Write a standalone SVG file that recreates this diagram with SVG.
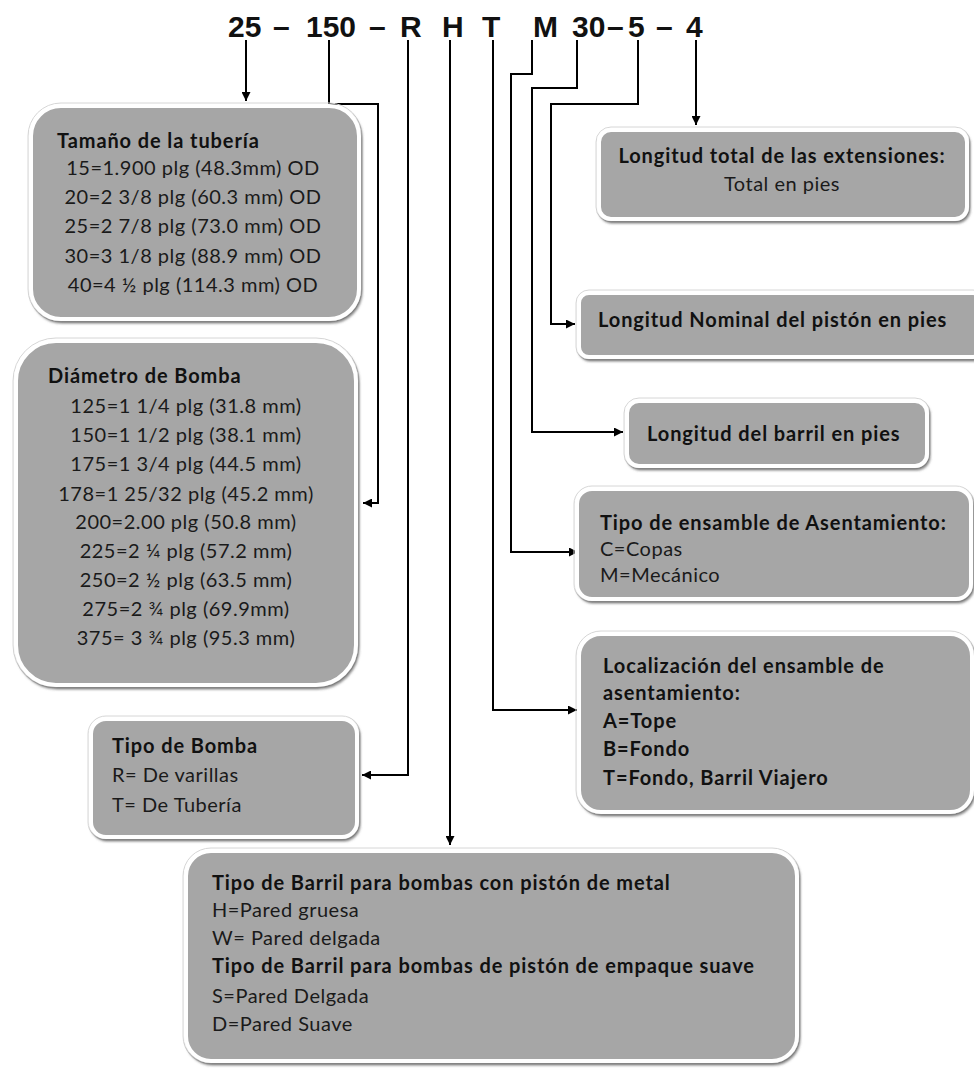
<svg xmlns="http://www.w3.org/2000/svg" width="974" height="1068" viewBox="0 0 974 1068">
<defs>
<filter id="sh" x="-5%" y="-5%" width="110%" height="115%">
<feDropShadow dx="1.5" dy="2.5" stdDeviation="1.2" flood-color="#555" flood-opacity="0.7"/>
</filter>
<marker id="ah" viewBox="0 0 10 10" refX="10" refY="5" markerWidth="10" markerHeight="9" orient="auto" markerUnits="userSpaceOnUse">
<path d="M0,0 L10,5 L0,10 z" fill="#000"/>
</marker>
<style>
.box{fill:#a6a6a6;stroke:#ffffff;stroke-width:4;filter:url(#sh)}
.halo{fill:none;stroke:#d6d6d6;stroke-width:1}
.t{font-family:Lato,"Liberation Sans",sans-serif;font-size:20px;letter-spacing:0.5px;fill:#1a1a1a}
.b{font-weight:bold;letter-spacing:0.9px;fill:#111}
.c{text-anchor:middle}
.hd{font-family:"Liberation Sans",Arial,sans-serif;font-size:30px;font-weight:bold;fill:#111}
.cn{fill:none;stroke:#000;stroke-width:2}
</style>
</defs>
<rect width="974" height="1068" fill="#ffffff"/>

<g id="header">
<text class="hd" y="37"><tspan x="228">25</tspan><tspan x="273">–</tspan><tspan x="306">150</tspan><tspan x="369">–</tspan><tspan x="400">R</tspan><tspan x="442">H</tspan><tspan x="482">T</tspan><tspan x="533">M</tspan><tspan x="572">30</tspan><tspan x="607">–</tspan><tspan x="628">5</tspan><tspan x="656">–</tspan><tspan x="686">4</tspan></text>
</g>

<g id="connectors">
<path class="cn" d="M246,40 V101" marker-end="url(#ah)"/>
<path class="cn" d="M329,40 V104 H378 V503 H363" marker-end="url(#ah)"/>
<path class="cn" d="M408,40 V775 H362" marker-end="url(#ah)"/>
<path class="cn" d="M450,40 V845" marker-end="url(#ah)"/>
<path class="cn" d="M493,40 V710 H577" marker-end="url(#ah)"/>
<path class="cn" d="M532,40 V74 H511 V552 H578" marker-end="url(#ah)"/>
<path class="cn" d="M577,40 V88 H532 V432 H623" marker-end="url(#ah)"/>
<path class="cn" d="M638,40 V104 H551 V324 H575" marker-end="url(#ah)"/>
<path class="cn" d="M696,40 V125" marker-end="url(#ah)"/>
</g>

<g id="tamano">
<rect class="halo" x="28" y="103" width="334" height="219" rx="33"/>
<rect class="box" x="31" y="106" width="328" height="213" rx="30"/>
<text class="t b" x="57" y="148">Tamaño de la tubería</text>
<text class="t c" x="193" y="175">15=1.900 plg (48.3mm) OD</text>
<text class="t c" x="193" y="204">20=2 3/8 plg (60.3 mm) OD</text>
<text class="t c" x="193" y="233">25=2 7/8 plg (73.0 mm) OD</text>
<text class="t c" x="193" y="263">30=3 1/8 plg (88.9 mm) OD</text>
<text class="t c" x="193" y="292">40=4 ½ plg (114.3 mm) OD</text>
</g>

<g id="diametro">
<rect class="halo" x="13" y="338" width="346" height="350" rx="43"/>
<rect class="box" x="16" y="341" width="340" height="344" rx="40"/>
<text class="t b" x="48" y="383">Diámetro de Bomba</text>
<text class="t c" x="186" y="413">125=1 1/4 plg (31.8 mm)</text>
<text class="t c" x="186" y="442">150=1 1/2 plg (38.1 mm)</text>
<text class="t c" x="186" y="471">175=1 3/4 plg (44.5 mm)</text>
<text class="t c" x="186" y="501">178=1 25/32 plg (45.2 mm)</text>
<text class="t c" x="186" y="529">200=2.00 plg (50.8 mm)</text>
<text class="t c" x="186" y="558">225=2 ¼ plg (57.2 mm)</text>
<text class="t c" x="186" y="587">250=2 ½ plg (63.5 mm)</text>
<text class="t c" x="186" y="616">275=2 ¾ plg (69.9mm)</text>
<text class="t c" x="186" y="645">375= 3 ¾ plg (95.3 mm)</text>
</g>

<g id="tipo-bomba">
<rect class="halo" x="88" y="716" width="272" height="124" rx="18"/>
<rect class="box" x="91" y="719" width="266" height="118" rx="15"/>
<text class="t b" x="112" y="753">Tipo de Bomba</text>
<text class="t" x="112" y="782">R= De varillas</text>
<text class="t" x="112" y="812">T= De Tubería</text>
</g>

<g id="tipo-barril">
<rect class="halo" x="183" y="848" width="617" height="216" rx="28"/>
<rect class="box" x="186" y="851" width="611" height="210" rx="25"/>
<text class="t b" x="212" y="890">Tipo de Barril para bombas con pistón de metal</text>
<text class="t" x="212" y="917">H=Pared gruesa</text>
<text class="t" x="212" y="945">W= Pared delgada</text>
<text class="t b" x="212" y="973">Tipo de Barril para bombas de pistón de empaque suave</text>
<text class="t" x="212" y="1003">S=Pared Delgada</text>
<text class="t" x="212" y="1031">D=Pared Suave</text>
</g>

<g id="longitud-total">
<rect class="halo" x="596" y="127" width="374" height="95" rx="15"/>
<rect class="box" x="599" y="130" width="368" height="89" rx="12"/>
<text class="t b c" x="782" y="163">Longitud total de las extensiones:</text>
<text class="t c" x="782" y="191">Total en pies</text>
</g>

<g id="longitud-piston">
<rect class="halo" x="576" y="290" width="410" height="70" rx="13"/>
<rect class="box" x="579" y="293" width="404" height="64" rx="10"/>
<text class="t b" x="598" y="327">Longitud Nominal del pistón en pies</text>
</g>

<g id="longitud-barril">
<rect class="halo" x="624" y="398" width="306" height="71" rx="15"/>
<rect class="box" x="627" y="401" width="300" height="65" rx="12"/>
<text class="t b" x="647" y="441">Longitud del barril en pies</text>
</g>

<g id="ensamble">
<rect class="halo" x="574" y="486" width="400" height="116" rx="18"/>
<rect class="box" x="577" y="489" width="394" height="110" rx="15"/>
<text class="t b" x="600" y="530">Tipo de ensamble de Asentamiento:</text>
<text class="t" x="600" y="556">C=Copas</text>
<text class="t" x="600" y="582">M=Mecánico</text>
</g>

<g id="localizacion">
<rect class="halo" x="576" y="631" width="399" height="184" rx="25"/>
<rect class="box" x="579" y="634" width="393" height="178" rx="22"/>
<text class="t b" x="603" y="673">Localización del ensamble de</text>
<text class="t b" x="603" y="700">asentamiento:</text>
<text class="t b" x="603" y="728">A=Tope</text>
<text class="t b" x="603" y="756">B=Fondo</text>
<text class="t b" x="603" y="785">T=Fondo, Barril Viajero</text>
</g>
</svg>
